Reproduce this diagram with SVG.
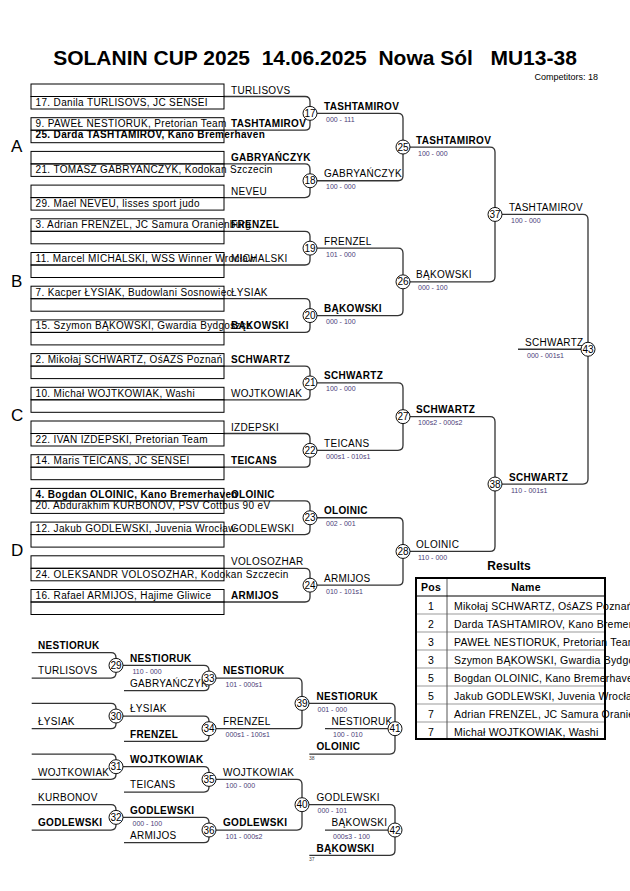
<svg xmlns="http://www.w3.org/2000/svg" width="630" height="891" viewBox="0 0 630 891">
<style>
text{font-family:"Liberation Sans",Arial,sans-serif;fill:#000}
.bx{fill:none;stroke:#000;stroke-width:1}
.bt{font-size:10px;letter-spacing:.35px}
.lb{font-size:10px;letter-spacing:.3px}
.b{font-weight:bold}
.sc{font-size:7px;fill:#4a3c78}
.ln{fill:none;stroke:#333;stroke-width:1.3}
.ci{fill:#fff;stroke:#111;stroke-width:1}
.cn{font-size:10px;text-anchor:middle}
.pl{font-size:17px}
.tiny{font-size:5px;fill:#444}
.tb{font-size:10.5px;letter-spacing:.2px}
.rl{stroke:#999;stroke-width:1}
</style>
<rect width="630" height="891" fill="#fff"/>
<g id="title">
<text x="315" y="65" text-anchor="middle" style="white-space:pre;font-size:21px;font-weight:bold">SOLANIN CUP 2025  14.06.2025  Nowa Sól   MU13-38</text>
<text x="598" y="80" text-anchor="end" style="font-size:9px">Competitors: 18</text>
</g>
<g id="pools">
<text class="pl" x="11" y="152">A</text>
<text class="pl" x="11" y="287">B</text>
<text class="pl" x="11" y="421">C</text>
<text class="pl" x="11" y="556">D</text>
</g>
<g id="connectors">
<path class="ln" d="M224 96.5H305Q310 96.5 310 101.5V125.2Q310 130.2 305 130.2H224"/>
<path class="ln" d="M224 163.9H305Q310 163.9 310 168.9V192.6Q310 197.6 305 197.6H224"/>
<path class="ln" d="M224 231.3H305Q310 231.3 310 236.3V260Q310 265 305 265H224"/>
<path class="ln" d="M224 298.7H305Q310 298.7 310 303.7V327.4Q310 332.4 305 332.4H224"/>
<path class="ln" d="M224 366.1H305Q310 366.1 310 371.1V394.8Q310 399.8 305 399.8H224"/>
<path class="ln" d="M224 433.5H305Q310 433.5 310 438.5V462.2Q310 467.2 305 467.2H224"/>
<path class="ln" d="M224 500.9H305Q310 500.9 310 505.9V529.6Q310 534.6 305 534.6H224"/>
<path class="ln" d="M224 568.3H305Q310 568.3 310 573.3V597Q310 602 305 602H224"/>
<path class="ln" d="M310 113.35H398Q403 113.35 403 118.35V175.75Q403 180.75 398 180.75H310"/>
<path class="ln" d="M310 248.15H398Q403 248.15 403 253.15V310.55Q403 315.55 398 315.55H310"/>
<path class="ln" d="M310 382.95H398Q403 382.95 403 387.95V445.35Q403 450.35 398 450.35H310"/>
<path class="ln" d="M310 517.75H398Q403 517.75 403 522.75V580.15Q403 585.15 398 585.15H310"/>
<path class="ln" d="M403 147.05H490Q495 147.05 495 152.05V276.85Q495 281.85 490 281.85H403"/>
<path class="ln" d="M403 416.65H490Q495 416.65 495 421.65V546.45Q495 551.45 490 551.45H403"/>
<path class="ln" d="M495 214.45H583Q588 214.45 588 219.45V479.05Q588 484.05 583 484.05H495"/>
<path class="ln" d="M588 349.25H518"/>
<path class="ln" d="M31.7 652.7H111Q116 652.7 116 657.7V673.03Q116 678.03 111 678.03H31.7"/>
<path class="ln" d="M31.7 703.37H111Q116 703.37 116 708.37V723.7Q116 728.7 111 728.7H31.7"/>
<path class="ln" d="M31.7 754.03H111Q116 754.03 116 759.03V774.37Q116 779.37 111 779.37H31.7"/>
<path class="ln" d="M31.7 804.7H111Q116 804.7 116 809.7V825.03Q116 830.03 111 830.03H31.7"/>
<path class="ln" d="M116 665.37H204Q209 665.37 209 670.37V685.7Q209 690.7 204 690.7H124"/>
<path class="ln" d="M116 716.03H204Q209 716.03 209 721.03V736.37Q209 741.37 204 741.37H124"/>
<path class="ln" d="M116 766.7H204Q209 766.7 209 771.7V787.03Q209 792.03 204 792.03H124"/>
<path class="ln" d="M116 817.37H204Q209 817.37 209 822.37V837.7Q209 842.7 204 842.7H124"/>
<path class="ln" d="M209 678.03H297Q302 678.03 302 683.03V723.7Q302 728.7 297 728.7H209"/>
<path class="ln" d="M209 779.37H297Q302 779.37 302 784.37V825.03Q302 830.03 297 830.03H209"/>
<path class="ln" d="M302 703.37H390Q395 703.37 395 708.37V749.03Q395 754.03 390 754.03H309.3M395 728.7H325"/>
<path class="ln" d="M302 804.7H390Q395 804.7 395 809.7V850.37Q395 855.37 390 855.37H309.3M395 830.03H325"/>
</g>
<g id="slots">
<g id="slot0"><rect class="bx" x="31" y="84" width="193" height="12.5"/><rect class="bx" x="31" y="96.5" width="193" height="12.5"/><text class="bt" x="35.5" y="106">17. Danila TURLISOVS, JC SENSEI</text><text class="lb" x="231" y="93.5">TURLISOVS</text></g>
<g id="slot1"><rect class="bx" x="31" y="117.7" width="193" height="12.5"/><rect class="bx" x="31" y="130.2" width="193" height="12.5"/><text class="bt" x="35.5" y="127.2">9. PAWEŁ NESTIORUK, Pretorian Team</text><text class="bt b" x="35.5" y="138">25. Darda TASHTAMIROV, Kano Bremerhaven</text><text class="lb b" x="231" y="127.2">TASHTAMIROV</text></g>
<g id="slot2"><rect class="bx" x="31" y="151.4" width="193" height="12.5"/><rect class="bx" x="31" y="163.9" width="193" height="12.5"/><text class="bt" x="35.5" y="173.4">21. TOMASZ GABRYAŃCZYK, Kodokan Szczecin</text><text class="lb b" x="231" y="160.9">GABRYAŃCZYK</text></g>
<g id="slot3"><rect class="bx" x="31" y="185.1" width="193" height="12.5"/><rect class="bx" x="31" y="197.6" width="193" height="12.5"/><text class="bt" x="35.5" y="207.1">29. Mael NEVEU, lisses sport judo</text><text class="lb" x="231" y="194.6">NEVEU</text></g>
<g id="slot4"><rect class="bx" x="31" y="218.8" width="193" height="12.5"/><rect class="bx" x="31" y="231.3" width="193" height="12.5"/><text class="bt" x="35.5" y="228.3">3. Adrian FRENZEL, JC Samura Oranienburg</text><text class="lb b" x="231" y="228.3">FRENZEL</text></g>
<g id="slot5"><rect class="bx" x="31" y="252.5" width="193" height="12.5"/><rect class="bx" x="31" y="265" width="193" height="12.5"/><text class="bt" x="35.5" y="262">11. Marcel MICHALSKI, WSS Winner Wrocław</text><text class="lb" x="231" y="262">MICHALSKI</text></g>
<g id="slot6"><rect class="bx" x="31" y="286.2" width="193" height="12.5"/><rect class="bx" x="31" y="298.7" width="193" height="12.5"/><text class="bt" x="35.5" y="295.7">7. Kacper ŁYSIAK, Budowlani Sosnowiec</text><text class="lb" x="231" y="295.7">ŁYSIAK</text></g>
<g id="slot7"><rect class="bx" x="31" y="319.9" width="193" height="12.5"/><rect class="bx" x="31" y="332.4" width="193" height="12.5"/><text class="bt" x="35.5" y="329.4">15. Szymon BĄKOWSKI, Gwardia Bydgoszcz</text><text class="lb b" x="231" y="329.4">BĄKOWSKI</text></g>
<g id="slot8"><rect class="bx" x="31" y="353.6" width="193" height="12.5"/><rect class="bx" x="31" y="366.1" width="193" height="12.5"/><text class="bt" x="35.5" y="363.1">2. Mikołaj SCHWARTZ, OśAZS Poznań</text><text class="lb b" x="231" y="363.1">SCHWARTZ</text></g>
<g id="slot9"><rect class="bx" x="31" y="387.3" width="193" height="12.5"/><rect class="bx" x="31" y="399.8" width="193" height="12.5"/><text class="bt" x="35.5" y="396.8">10. Michał WOJTKOWIAK, Washi</text><text class="lb" x="231" y="396.8">WOJTKOWIAK</text></g>
<g id="slot10"><rect class="bx" x="31" y="421" width="193" height="12.5"/><rect class="bx" x="31" y="433.5" width="193" height="12.5"/><text class="bt" x="35.5" y="443">22. IVAN IZDEPSKI, Pretorian Team</text><text class="lb" x="231" y="430.5">IZDEPSKI</text></g>
<g id="slot11"><rect class="bx" x="31" y="454.7" width="193" height="12.5"/><rect class="bx" x="31" y="467.2" width="193" height="12.5"/><text class="bt" x="35.5" y="464.2">14. Maris TEICANS, JC SENSEI</text><text class="lb b" x="231" y="464.2">TEICANS</text></g>
<g id="slot12"><rect class="bx" x="31" y="488.4" width="193" height="12.5"/><rect class="bx" x="31" y="500.9" width="193" height="12.5"/><text class="bt b" x="35.5" y="497.9">4. Bogdan OLOINIC, Kano Bremerhaven</text><text class="bt" x="35.5" y="509">20. Abdurakhim KURBONOV, PSV Cottbus 90 eV</text><text class="lb b" x="231" y="497.9">OLOINIC</text></g>
<g id="slot13"><rect class="bx" x="31" y="522.1" width="193" height="12.5"/><rect class="bx" x="31" y="534.6" width="193" height="12.5"/><text class="bt" x="35.5" y="531.6">12. Jakub GODLEWSKI, Juvenia Wrocław</text><text class="lb" x="231" y="531.6">GODLEWSKI</text></g>
<g id="slot14"><rect class="bx" x="31" y="555.8" width="193" height="12.5"/><rect class="bx" x="31" y="568.3" width="193" height="12.5"/><text class="bt" x="35.5" y="577.8">24. OLEKSANDR VOLOSOZHAR, Kodokan Szczecin</text><text class="lb" x="231" y="565.3">VOLOSOZHAR</text></g>
<g id="slot15"><rect class="bx" x="31" y="589.5" width="193" height="12.5"/><rect class="bx" x="31" y="602" width="193" height="12.5"/><text class="bt" x="35.5" y="599">16. Rafael ARMIJOS, Hajime Gliwice</text><text class="lb b" x="231" y="599">ARMIJOS</text></g>
</g>
<g id="fights">
<g id="f17"><text class="lb b" x="324" y="109.85">TASHTAMIROV</text><text class="sc" x="326" y="121.85">000 - 111</text><circle class="ci" cx="310" cy="113.35" r="7"/><text class="cn" x="310" y="116.85">17</text></g>
<g id="f18"><text class="lb" x="324" y="177.25">GABRYAŃCZYK</text><text class="sc" x="326" y="189.25">100 - 000</text><circle class="ci" cx="310" cy="180.75" r="7"/><text class="cn" x="310" y="184.25">18</text></g>
<g id="f19"><text class="lb" x="324" y="244.65">FRENZEL</text><text class="sc" x="326" y="256.65">101 - 000</text><circle class="ci" cx="310" cy="248.15" r="7"/><text class="cn" x="310" y="251.65">19</text></g>
<g id="f20"><text class="lb b" x="324" y="312.05">BĄKOWSKI</text><text class="sc" x="326" y="324.05">000 - 100</text><circle class="ci" cx="310" cy="315.55" r="7"/><text class="cn" x="310" y="319.05">20</text></g>
<g id="f21"><text class="lb b" x="324" y="379.45">SCHWARTZ</text><text class="sc" x="326" y="391.45">100 - 000</text><circle class="ci" cx="310" cy="382.95" r="7"/><text class="cn" x="310" y="386.45">21</text></g>
<g id="f22"><text class="lb" x="324" y="446.85">TEICANS</text><text class="sc" x="326" y="458.85">000s1 - 010s1</text><circle class="ci" cx="310" cy="450.35" r="7"/><text class="cn" x="310" y="453.85">22</text></g>
<g id="f23"><text class="lb b" x="324" y="514.25">OLOINIC</text><text class="sc" x="326" y="526.25">002 - 001</text><circle class="ci" cx="310" cy="517.75" r="7"/><text class="cn" x="310" y="521.25">23</text></g>
<g id="f24"><text class="lb" x="324" y="581.65">ARMIJOS</text><text class="sc" x="326" y="593.65">010 - 101s1</text><circle class="ci" cx="310" cy="585.15" r="7"/><text class="cn" x="310" y="588.65">24</text></g>
<g id="f25"><text class="lb b" x="416" y="143.55">TASHTAMIROV</text><text class="sc" x="418" y="155.55">100 - 000</text><circle class="ci" cx="403" cy="147.05" r="7"/><text class="cn" x="403" y="150.55">25</text></g>
<g id="f26"><text class="lb" x="416" y="278.35">BĄKOWSKI</text><text class="sc" x="418" y="290.35">000 - 100</text><circle class="ci" cx="403" cy="281.85" r="7"/><text class="cn" x="403" y="285.35">26</text></g>
<g id="f27"><text class="lb b" x="416" y="413.15">SCHWARTZ</text><text class="sc" x="418" y="425.15">100s2 - 000s2</text><circle class="ci" cx="403" cy="416.65" r="7"/><text class="cn" x="403" y="420.15">27</text></g>
<g id="f28"><text class="lb" x="416" y="547.95">OLOINIC</text><text class="sc" x="418" y="559.95">110 - 000</text><circle class="ci" cx="403" cy="551.45" r="7"/><text class="cn" x="403" y="554.95">28</text></g>
<g id="f37"><text class="lb" x="509" y="210.95">TASHTAMIROV</text><text class="sc" x="511" y="222.95">100 - 000</text><circle class="ci" cx="495" cy="214.45" r="7"/><text class="cn" x="495" y="217.95">37</text></g>
<g id="f38"><text class="lb b" x="509" y="480.55">SCHWARTZ</text><text class="sc" x="511" y="492.55">110 - 001s1</text><circle class="ci" cx="495" cy="484.05" r="7"/><text class="cn" x="495" y="487.55">38</text></g>
<g id="f43"><text class="lb" x="525" y="345.75">SCHWARTZ</text><text class="sc" x="527" y="357.75">000 - 001s1</text><circle class="ci" cx="588" cy="349.25" r="7"/><text class="cn" x="588" y="352.75">43</text></g>
</g>
<g id="repechage">
<g id="r-in"><text class="lb b" x="38" y="649">NESTIORUK</text><text class="lb" x="38" y="674.3">TURLISOVS</text><text class="lb" x="38" y="725">ŁYSIAK</text><text class="lb" x="38" y="775.7">WOJTKOWIAK</text><text class="lb" x="38" y="801">KURBONOV</text><text class="lb b" x="38" y="826.3">GODLEWSKI</text></g>
<g id="f29"><text class="lb b" x="130" y="661.7">NESTIORUK</text><text class="sc" x="132.5" y="673.9">110 - 000</text><circle class="ci" cx="116" cy="665.37" r="7"/><text class="cn" x="116" y="668.87">29</text></g>
<g id="f30"><text class="lb" x="130" y="712.3">ŁYSIAK</text><circle class="ci" cx="116" cy="716.03" r="7"/><text class="cn" x="116" y="719.53">30</text></g>
<g id="f31"><text class="lb b" x="130" y="763">WOJTKOWIAK</text><circle class="ci" cx="116" cy="766.7" r="7"/><text class="cn" x="116" y="770.2">31</text></g>
<g id="f32"><text class="lb b" x="130" y="813.7">GODLEWSKI</text><text class="sc" x="132.5" y="825.9">000 - 100</text><circle class="ci" cx="116" cy="817.37" r="7"/><text class="cn" x="116" y="820.87">32</text></g>
<g id="r-in2"><text class="lb" x="130" y="687">GABRYAŃCZYK</text><text class="lb b" x="130" y="737.7">FRENZEL</text><text class="lb" x="130" y="788.3">TEICANS</text><text class="lb" x="130" y="839">ARMIJOS</text></g>
<g id="f33"><text class="lb b" x="223" y="674.3">NESTIORUK</text><text class="sc" x="225.5" y="686.5">101 - 000s1</text><circle class="ci" cx="209" cy="678.03" r="7"/><text class="cn" x="209" y="681.53">33</text></g>
<g id="f34"><text class="lb" x="223" y="725">FRENZEL</text><text class="sc" x="225.5" y="737.2">000s1 - 100s1</text><circle class="ci" cx="209" cy="728.7" r="7"/><text class="cn" x="209" y="732.2">34</text></g>
<g id="f35"><text class="lb" x="223" y="775.7">WOJTKOWIAK</text><text class="sc" x="225.5" y="787.9">100 - 000</text><circle class="ci" cx="209" cy="779.37" r="7"/><text class="cn" x="209" y="782.87">35</text></g>
<g id="f36"><text class="lb b" x="223" y="826.3">GODLEWSKI</text><text class="sc" x="225.5" y="838.5">101 - 000s2</text><circle class="ci" cx="209" cy="830.03" r="7"/><text class="cn" x="209" y="833.53">36</text></g>
<g id="f39"><text class="lb b" x="316.5" y="699.7">NESTIORUK</text><text class="sc" x="317.5" y="711.9">001 - 000</text><circle class="ci" cx="302" cy="703.37" r="7"/><text class="cn" x="302" y="706.87">39</text></g>
<g id="f40"><text class="lb" x="316.5" y="801">GODLEWSKI</text><text class="sc" x="317.5" y="813.2">000 - 101</text><circle class="ci" cx="302" cy="804.7" r="7"/><text class="cn" x="302" y="808.2">40</text></g>
<g id="f41"><text class="lb b" x="316.5" y="750.3">OLOINIC</text><text class="tiny" x="309" y="759.5">38</text><text class="lb" x="331.5" y="725">NESTIORUK</text><text class="sc" x="333" y="737.2">100 - 010</text><circle class="ci" cx="395" cy="728.7" r="7"/><text class="cn" x="395" y="732.2">41</text></g>
<g id="f42"><text class="lb b" x="316.5" y="851.7">BĄKOWSKI</text><text class="tiny" x="309" y="860.8">37</text><text class="lb" x="331.5" y="826.3">BĄKOWSKI</text><text class="sc" x="333" y="838.5">000s3 - 100</text><circle class="ci" cx="395" cy="830.03" r="7"/><text class="cn" x="395" y="833.53">42</text></g>
</g>
<g id="results">
<text x="509" y="570" text-anchor="middle" style="font-size:12px;font-weight:bold">Results</text>
<g class="tb">
<text x="431" y="591" text-anchor="middle" class="b">Pos</text><text x="526" y="591" text-anchor="middle" class="b">Name</text>
<text x="431" y="609.5" text-anchor="middle">1</text><text x="454" y="609.5">Mikołaj SCHWARTZ, OśAZS Poznań</text>
<text x="431" y="627.5" text-anchor="middle">2</text><text x="454" y="627.5">Darda TASHTAMIROV, Kano Bremerhaven</text>
<text x="431" y="645.5" text-anchor="middle">3</text><text x="454" y="645.5">PAWEŁ NESTIORUK, Pretorian Team</text>
<text x="431" y="663.5" text-anchor="middle">3</text><text x="454" y="663.5">Szymon BĄKOWSKI, Gwardia Bydgoszcz</text>
<text x="431" y="681.5" text-anchor="middle">5</text><text x="454" y="681.5">Bogdan OLOINIC, Kano Bremerhaven</text>
<text x="431" y="699.5" text-anchor="middle">5</text><text x="454" y="699.5">Jakub GODLEWSKI, Juvenia Wrocław</text>
<text x="431" y="717.5" text-anchor="middle">7</text><text x="454" y="717.5">Adrian FRENZEL, JC Samura Oranienburg</text>
<text x="431" y="735.5" text-anchor="middle">7</text><text x="454" y="735.5">Michał WOJTKOWIAK, Washi</text>
</g>
<path class="rl" d="M416 614H605M416 632H605M416 650H605M416 668H605M416 686H605M416 704H605M416 722H605"/>
<path d="M447 578V739" stroke="#555" stroke-width="1"/>
<path d="M416 596H605" stroke="#000" stroke-width="1.2"/>
<rect x="416" y="578" width="189" height="161" fill="none" stroke="#000" stroke-width="2"/>
</g>
</svg>
